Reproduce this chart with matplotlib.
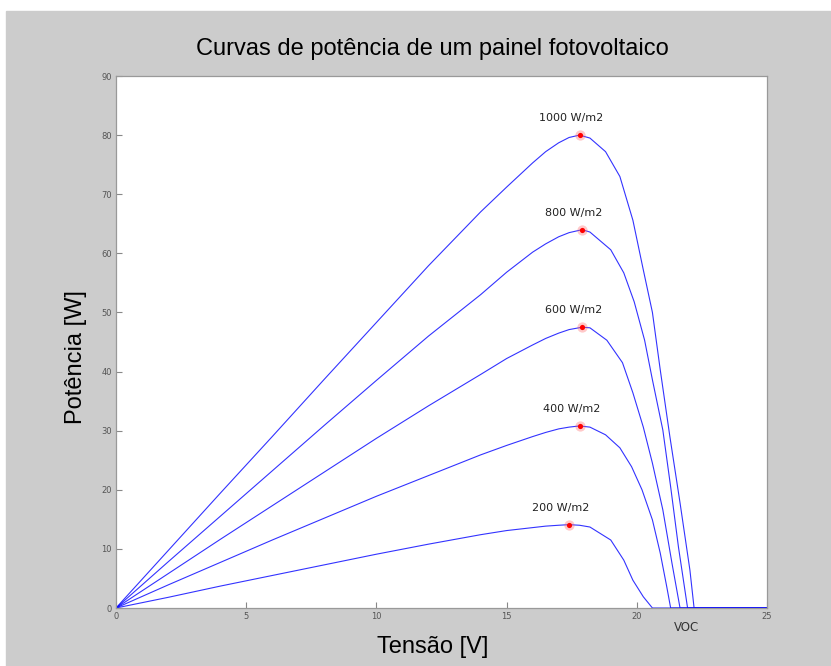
import matplotlib
matplotlib.use("Agg")
import matplotlib.pyplot as plt
from matplotlib.patches import Rectangle

# irradiance levels and curves (V in volts, P in watts)
labels = ["1000 W/m2", "800 W/m2", "600 W/m2", "400 W/m2", "200 W/m2"]

v1000 = [0, 2, 4, 6, 8, 10, 12, 14, 15, 16, 16.5, 17, 17.4, 17.8, 18.2, 18.8,
         19.35, 19.85, 20.25, 20.6, 20.9, 21.27, 21.66, 22.04, 22.2, 25]
p1000 = [0, 9.7, 19.4, 29.0, 38.7, 48.3, 57.9, 67.0, 71.2, 75.3, 77.2, 78.7,
         79.6, 80.0, 79.5, 77.2, 73.0, 65.6, 57.2, 50.0, 40.3, 29.0, 17.8, 6.4,
         0, 0]

v800 = [0, 2, 4, 6, 8, 10, 12, 14, 15, 16, 16.5, 17, 17.4, 17.9, 18.2, 19.0,
        19.5, 19.9, 20.3, 20.6, 21.0, 21.3, 21.6, 21.95, 25]
p800 = [0, 7.8, 15.5, 23.2, 30.9, 38.5, 46.0, 53.0, 56.8, 60.2, 61.6, 62.8,
        63.5, 64.0, 63.6, 60.6, 56.7, 51.8, 45.3, 38.6, 30.1, 20.5, 10.3, 0, 0]

v600 = [0, 2, 4, 6, 8, 10, 12, 14, 15, 16, 16.5, 17, 17.4, 17.9, 18.2, 18.85,
        19.45, 19.85, 20.25, 20.6, 21.0, 21.35, 21.66, 25]
p600 = [0, 5.8, 11.6, 17.3, 23.0, 28.7, 34.2, 39.5, 42.2, 44.5, 45.6, 46.5,
        47.1, 47.5, 47.4, 45.3, 41.5, 36.4, 30.6, 24.5, 16.6, 7.6, 0, 0]

v400 = [0, 2, 4, 6, 8, 10, 12, 14, 15, 16, 16.5, 17, 17.4, 17.8, 18.2, 18.8,
        19.35, 19.8, 20.2, 20.6, 20.9, 21.15, 21.3, 25]
p400 = [0, 3.9, 7.7, 11.5, 15.2, 18.9, 22.4, 25.9, 27.5, 29.0, 29.7, 30.3,
        30.6, 30.8, 30.6, 29.3, 27.1, 23.9, 20.0, 14.9, 9.3, 3.6, 0, 0]

v200 = [0, 2, 4, 6, 8, 10, 12, 14, 15, 16, 16.5, 17, 17.4, 17.8, 18.2, 19.0,
        19.5, 19.85, 20.25, 20.6, 25]
p200 = [0, 1.8, 3.7, 5.5, 7.3, 9.1, 10.8, 12.4, 13.1, 13.6, 13.85, 14.0, 14.1,
        14.0, 13.7, 11.5, 8.1, 4.7, 1.9, 0, 0]

# maximum power points
mpp_v = [17.8, 17.9, 17.9, 17.8, 17.4]
mpp_p = [80.0, 64.0, 47.5, 30.8, 14.1]

curves = [(v1000, p1000), (v800, p800), (v600, p600), (v400, p400), (v200, p200)]

fig = plt.figure(figsize=(8.31, 6.66), dpi=100, facecolor="white")
bg = Rectangle((6 / 831, 0), 1, (666 - 11) / 666, transform=fig.transFigure,
               color="#cccccc", zorder=-10)
fig.patches.append(bg)

ax = fig.add_axes([116 / 831, 58 / 666, 651 / 831, 532 / 666])
ax.set_zorder(5)
ax.set_facecolor("white")

for v, p in curves:
    ax.plot(v, p, color="#0000ff", linewidth=0.8, alpha=0.8)

ax.scatter(mpp_v, mpp_p, s=55, color="#ff6666", alpha=0.35, linewidths=0, zorder=3)
ax.scatter(mpp_v, mpp_p, s=14, color="#ff0000", linewidths=0, zorder=4)

for lab, v, p in zip(labels, mpp_v, mpp_p):
    ax.annotate(lab, (v, p), xytext=(-8, 12), textcoords="offset pixels",
                ha="center", va="bottom", fontsize=8, color="#222222",
                family="DejaVu Sans")

ax.set_xlim(0, 25)
ax.set_ylim(0, 90)
ax.set_xticks(range(0, 26, 5))
ax.set_yticks(range(0, 91, 10))
ax.tick_params(direction="in", length=4, width=0.8, color="#888888",
               labelsize=6, labelcolor="#555555", pad=3)
for s in ax.spines.values():
    s.set_color("#999999")
    s.set_linewidth(0.9)

ax.text(21.9, -2.2, "VOC", ha="center", va="top", fontsize=8.5, color="#333333",
        clip_on=False)

fig.text(432 / 831, (666 - 49) / 666, "Curvas de potência de um painel fotovoltaico",
         ha="center", va="center", fontsize=17, family="Liberation Sans")
fig.text(433 / 831, (666 - 647) / 666, "Tensão [V]", ha="center", va="center",
         fontsize=17, family="Liberation Sans")
fig.text(76 / 831, (666 - 357) / 666, "Potência [W]", ha="center", va="center",
         rotation=90, fontsize=17, family="Liberation Sans")

fig.savefig("out.png", dpi=100, facecolor=fig.get_facecolor())
